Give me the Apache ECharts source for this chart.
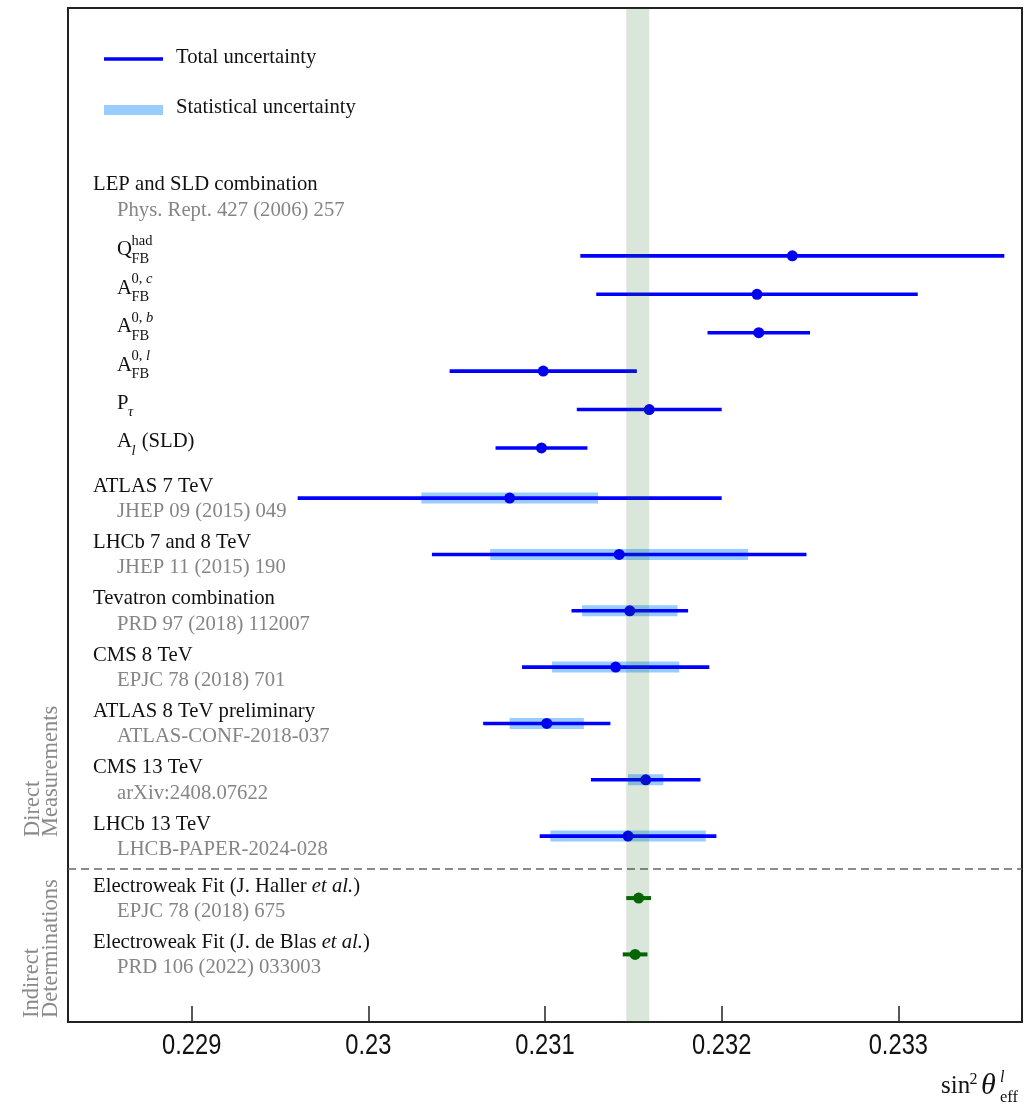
<!DOCTYPE html>
<html><head><meta charset="utf-8">
<script src="https://cdn.jsdelivr.net/npm/echarts@6/dist/echarts.min.js"></script>
<style>html,body{margin:0;padding:0;background:#fff}#c{width:1030px;height:1104px}</style>
</head><body><div id="c"></div>
<script>
// ---------------- data ----------------
const legendLabels = ['Total uncertainty', 'Statistical uncertainty'];

const lepTitle = 'LEP and SLD combination';
const lepRef = 'Phys. Rept. 427 (2006) 257';
const lepMain = ['Q', 'A', 'A', 'A', 'P', 'A'];
const lepSup = ['had', '0, {i|c}', '0, {i|b}', '0, {i|l}', '', ''];
const lepSub = ['FB', 'FB', 'FB', 'FB', '{i|τ}', '{i|l}'];
const lepSuffix = ['', '', '', '', '', ' (SLD)'];
const lepCentral = [0.23240, 0.23220, 0.23221, 0.23099, 0.23159, 0.23098];
const lepTotal = [0.00120, 0.00091, 0.00029, 0.00053, 0.00041, 0.00026];

const expNames = ['ATLAS 7 TeV', 'LHCb 7 and 8 TeV', 'Tevatron combination', 'CMS 8 TeV',
  'ATLAS 8 TeV preliminary', 'CMS 13 TeV', 'LHCb 13 TeV'];
const expRefs = ['JHEP 09 (2015) 049', 'JHEP 11 (2015) 190', 'PRD 97 (2018) 112007', 'EPJC 78 (2018) 701',
  'ATLAS-CONF-2018-037', 'arXiv:2408.07622', 'LHCB-PAPER-2024-028'];
const expCentral = [0.23080, 0.23142, 0.23148, 0.23140, 0.23101, 0.23157, 0.23147];
const expTotal = [0.00120, 0.00106, 0.00033, 0.00053, 0.00036, 0.00031, 0.00050];
const expStat = [0.00050, 0.00073, 0.00027, 0.00036, 0.00021, 0.00010, 0.00044];

const ewNames = ['Electroweak Fit (J. Haller {it|et al.})', 'Electroweak Fit (J. de Blas {it|et al.})'];
const ewRefs = ['EPJC 78 (2018) 675', 'PRD 106 (2022) 033003'];
const ewCentral = [0.23153, 0.23151];
const ewTotal = [0.00007, 0.00007];

const bandRange = [0.23146, 0.23159];
const xTicks = [0.229, 0.230, 0.231, 0.232, 0.233];
const xTickLabels = ['0.229', '0.23', '0.231', '0.232', '0.233'];
const groupLabels = [['Direct', 'Measurements'], ['Indirect', 'Determinations']];

// ---------------- layout ----------------
const X_MIN = 0.2283, X_MAX = 0.2337, Y_MAX = 18;
const HEADER_Y = 3.35, LEP_Y0 = 4.40, LEP_STEP = 0.682, EXP_Y0 = 8.70, EW_Y0 = 15.80, SEP_Y = 15.275;
const SERIF = '"Liberation Serif","Times New Roman",serif';
const SANS = '"Liberation Sans",Arial,sans-serif';
const FS = 20.7, FS_SMALL = 14.5;
const BLUE = '#0000ff', BLUE_DOT = '#0000f0', STATC = '#99ccff', GREEN = '#006600', GREY = '#858585';

const mctx = document.createElement('canvas').getContext('2d');
function tw(text, font) { mctx.font = font; return mctx.measureText(text).width; }
function plain(s) { return s.replace(/\{\w+\|([^}]*)\}/g, '$1'); }

// rows for the error bars
const barRows = [];
lepCentral.forEach((c, i) => barRows.push({c, tot: lepTotal[i], stat: 0, y: LEP_Y0 + i * LEP_STEP, color: BLUE, dot: BLUE_DOT}));
expCentral.forEach((c, i) => barRows.push({c, tot: expTotal[i], stat: expStat[i], y: EXP_Y0 + i, color: BLUE, dot: BLUE_DOT}));
ewCentral.forEach((c, i) => barRows.push({c, tot: ewTotal[i], stat: 0, y: EW_Y0 + i, color: GREEN, dot: GREEN}));

const barData = barRows.map(r => [r.c, r.y, r.c - r.tot, r.c + r.tot, r.c - r.stat, r.c + r.stat]);

// label rows: [x, y, kind, index]  kind 0 header, 1 lep item, 2 experiment, 3 ew
const labelData = [[X_MIN, HEADER_Y, 0, 0]];
lepMain.forEach((m, i) => labelData.push([X_MIN, LEP_Y0 + i * LEP_STEP, 1, i]));
expNames.forEach((m, i) => labelData.push([X_MIN, EXP_Y0 + i, 2, i]));
ewNames.forEach((m, i) => labelData.push([X_MIN, EW_Y0 + i, 3, i]));

function txt(x, y, text, opt) {
  return {type: 'text', x, y, style: Object.assign({
    text, fill: '#111', fontFamily: SERIF, fontSize: FS, align: 'left', verticalAlign: 'middle'
  }, opt || {})};
}

function renderLabel(params, api) {
  const kind = api.value(2), i = api.value(3);
  const p = api.coord([X_MIN, api.value(1)]);
  const x0 = p[0], y = p[1];
  const tOff = -5 - 0.3375 * FS, rOff = 20.5 - 0.3375 * FS;
  const ch = [];
  if (kind === 0) {
    ch.push(txt(x0 + 25, y + tOff, lepTitle));
    ch.push(txt(x0 + 49, y + rOff, lepRef, {fill: GREY}));
  } else if (kind === 2) {
    ch.push(txt(x0 + 25, y + tOff, expNames[i]));
    ch.push(txt(x0 + 49, y + rOff, expRefs[i], {fill: GREY}));
  } else if (kind === 3) {
    ch.push(txt(x0 + 25, y + tOff, ewNames[i], {rich: {it: {fontStyle: 'italic', fontFamily: SERIF, fontSize: FS, fill: '#111'}}}));
    ch.push(txt(x0 + 49, y + rOff, ewRefs[i], {fill: GREY}));
  } else {
    const mx = x0 + 49;
    const mainY = y + 1 - 0.3375 * FS;
    ch.push(txt(mx, mainY, lepMain[i]));
    const sx = mx + tw(lepMain[i], FS + 'px ' + SERIF) - 0.5;
    const richS = {i: {fontStyle: 'italic', fontFamily: SERIF, fontSize: FS_SMALL, fill: '#111'}};
    if (lepSup[i]) ch.push(txt(sx, y - 10 - 0.3375 * FS_SMALL, lepSup[i], {fontSize: FS_SMALL, rich: richS}));
    let subW = 0;
    if (lepSub[i]) {
      ch.push(txt(sx, y + 8 - 0.3375 * FS_SMALL, lepSub[i], {fontSize: FS_SMALL, rich: richS}));
      const italic = lepSub[i].indexOf('{i|') === 0;
      subW = tw(plain(lepSub[i]), (italic ? 'italic ' : '') + FS_SMALL + 'px ' + SERIF);
    }
    if (lepSuffix[i]) ch.push(txt(sx + subW + 1, mainY, lepSuffix[i]));
  }
  return {type: 'group', children: ch};
}

function renderStat(params, api) {
  const lo = api.value(4), hi = api.value(5);
  if (hi - lo <= 0) return null;
  const a = api.coord([lo, api.value(1)]), b = api.coord([hi, api.value(1)]);
  const h = 11;
  return {type: 'rect', shape: {x: a[0], y: a[1] - h / 2, width: b[0] - a[0], height: h}, style: {fill: STATC}};
}

function renderTotal(params, api) {
  const r = barRows[params.dataIndex];
  const a = api.coord([api.value(2), api.value(1)]), b = api.coord([api.value(3), api.value(1)]);
  return {type: 'line', shape: {x1: a[0], y1: a[1], x2: b[0], y2: b[1]},
    style: {stroke: r.color, lineWidth: r.color === GREEN ? 4 : 3.6, lineCap: 'butt'}};
}

function renderBand(params, api) {
  const a = api.coord([api.value(0), Y_MAX]), b = api.coord([api.value(1), 0]);
  const cs = params.coordSys;
  return {type: 'rect', shape: {x: a[0], y: cs.y, width: b[0] - a[0], height: cs.height},
    style: {fill: 'rgba(30,100,30,0.16)'}};
}

// tick labels drawn at the axis scale positions (narrow sans as in the reference)
function renderTickLabel(params, api) {
  const p = api.coord([api.value(0), Y_MAX]);
  return {type: 'text', x: p[0], y: p[1] + 24, scaleX: 0.79,
    style: {text: xTickLabels[params.dataIndex], x: 0, y: 0, fill: '#111', fontFamily: SANS, fontSize: 30,
      align: 'center', verticalAlign: 'middle'}};
}

const chart = echarts.init(document.getElementById('c'), null, {renderer: 'canvas'});

const option = {
  animation: false,
  backgroundColor: '#fff',
  grid: {left: 68, right: 8, top: 8, bottom: 82, show: true, borderColor: '#222', borderWidth: 2, backgroundColor: 'transparent'},
  xAxis: {
    type: 'value', min: X_MIN, max: X_MAX, splitNumber: 5, position: 'bottom',
    axisLine: {show: false, onZero: false},
    splitLine: {show: false},
    axisTick: {show: true, inside: true, length: 16, lineStyle: {color: '#222', width: 1.5}},
    axisLabel: {show: false}
  },
  yAxis: {type: 'value', min: 0, max: Y_MAX, inverse: true, show: false},
  series: [
    {
      name: 'Statistical uncertainty', type: 'custom', renderItem: renderStat, data: barData,
      encode: {x: 0, y: 1}, clip: false, z: 2, silent: true,
      markLine: {
        silent: true, symbol: ['none', 'none'], label: {show: false},
        lineStyle: {color: '#666', width: 1.5, type: [8, 5]},
        data: [{yAxis: SEP_Y}]
      }
    },
    {name: 'Total uncertainty', type: 'custom', renderItem: renderTotal, data: barData, encode: {x: 0, y: 1}, clip: false, z: 3, silent: true},
    {
      name: 'Central value', type: 'scatter', data: barData.map(d => [d[0], d[1]]), symbol: 'circle', symbolSize: 11, z: 4, silent: true,
      itemStyle: {opacity: 1, color: p => barRows[p.dataIndex].dot}
    },
    {name: 'Labels', type: 'custom', renderItem: renderLabel, data: labelData, encode: {x: 0, y: 1}, clip: false, z: 5, silent: true},
    {name: 'Tick labels', type: 'custom', renderItem: renderTickLabel, data: xTicks.map(t => [t]), encode: {x: 0}, clip: false, z: 5, silent: true},
    {name: 'Band', type: 'custom', renderItem: renderBand, data: [bandRange], encode: {x: [0, 1]}, clip: false, z: 10, silent: true}
  ],
  graphic: [
    {type: 'line', shape: {x1: 104, y1: 59, x2: 163, y2: 59}, style: {stroke: BLUE, lineWidth: 3.5}},
    {type: 'rect', shape: {x: 104, y: 105, width: 59, height: 10}, style: {fill: STATC}},
    {type: 'text', x: 176, y: 58, style: {text: legendLabels[0], fill: '#111', font: FS + 'px ' + SERIF, verticalAlign: 'middle'}},
    {type: 'text', x: 176, y: 108, style: {text: legendLabels[1], fill: '#111', font: FS + 'px ' + SERIF, verticalAlign: 'middle'}},
    // group labels (rotated)
    {type: 'text', x: 33, y: 837, rotation: Math.PI / 2, style: {text: groupLabels[0][0], fill: '#8a8a8a', font: '22.5px ' + SERIF, align: 'left', verticalAlign: 'middle'}},
    {type: 'text', x: 51.5, y: 837, rotation: Math.PI / 2, style: {text: groupLabels[0][1], fill: '#8a8a8a', font: '22.5px ' + SERIF, align: 'left', verticalAlign: 'middle'}},
    {type: 'text', x: 32, y: 1018, rotation: Math.PI / 2, style: {text: groupLabels[1][0], fill: '#8a8a8a', font: '22.5px ' + SERIF, align: 'left', verticalAlign: 'middle'}},
    {type: 'text', x: 51, y: 1018, rotation: Math.PI / 2, style: {text: groupLabels[1][1], fill: '#8a8a8a', font: '22.5px ' + SERIF, align: 'left', verticalAlign: 'middle'}},
    // axis title sin^2 theta^l_eff
    {type: 'text', x: 941, y: 1095 - 0.3375 * 25, style: {text: 'sin', fill: '#111', font: '25px ' + SERIF, verticalAlign: 'middle'}},
    {type: 'text', x: 969.5, y: 1085 - 0.3375 * 16, style: {text: '2', fill: '#111', font: '16px ' + SERIF, verticalAlign: 'middle'}},
    {type: 'text', x: 981, y: 1096 - 0.3375 * 30, style: {text: 'θ', fill: '#111', font: 'italic 30px ' + SERIF, verticalAlign: 'middle'}},
    {type: 'text', x: 1000, y: 1083 - 0.3375 * 16, style: {text: 'l', fill: '#111', font: 'italic 16px ' + SERIF, verticalAlign: 'middle'}},
    {type: 'text', x: 1000, y: 1103 - 0.3375 * 16.5, style: {text: 'eff', fill: '#111', font: '16.5px ' + SERIF, verticalAlign: 'middle'}}
  ]
};
chart.setOption(option);
</script>
</body></html>
